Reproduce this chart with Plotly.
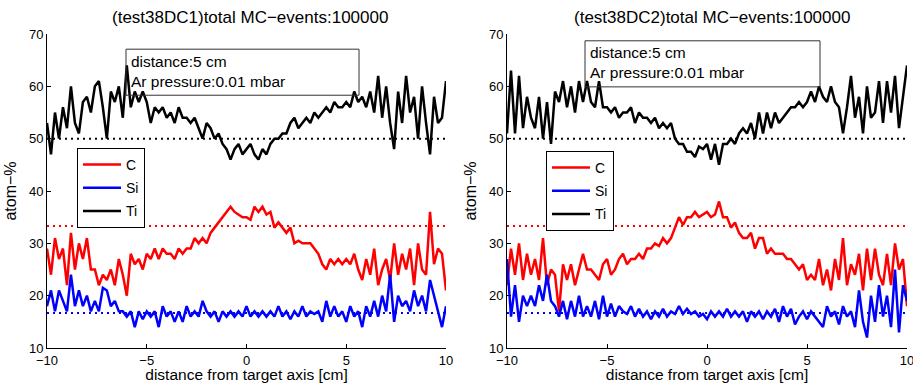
import plotly.graph_objects as go

# ---------------- data ----------------
x_pos = [round(-10 + 0.2 * i, 1) for i in range(101)]

ti_dc1 = [53, 47, 55, 50, 56, 52, 60, 53, 51, 57, 58, 55, 60, 61, 56, 50, 59, 57, 60, 54,
          64, 56, 59, 57, 59, 57, 53, 56, 55, 56, 54, 55, 53, 56, 54, 54, 53, 54, 52, 50,
          53, 52, 50, 51, 49, 48, 46, 48, 49, 47, 48, 49, 47, 46, 48, 47, 49, 50, 50, 51,
          51, 53, 54, 52, 53, 54, 53, 55, 54, 55, 56, 55, 57, 56, 56, 57, 56, 59, 57, 58,
          56, 59, 55, 62, 54, 60, 53, 48, 59, 53, 62, 55, 58, 50, 60, 53, 47, 58, 53, 54, 61]
c_dc1 = [29, 24, 31, 27, 29, 22, 32, 25, 30, 27, 31, 25, 25, 22, 24, 23, 25, 22, 27, 24,
         20, 28, 26, 27, 25, 28, 27, 29, 27, 29, 28, 28, 27, 29, 28, 29, 29, 31, 30, 31,
         30, 32, 33, 34, 35, 36, 37, 36, 35.5, 35, 35, 34.5, 37, 36, 37, 35.5, 36, 33, 34, 33,
         32, 33, 30, 30.5, 30, 30, 30, 29, 28, 26, 25, 27, 26, 27, 26, 27, 26, 28, 25, 23,
         27, 24, 29, 22, 25, 27, 23, 30, 24, 28, 25, 29, 22, 30, 25, 24, 36, 26, 29, 28, 21]
si_dc1 = [18, 21, 17, 21, 19, 17, 24, 18, 21, 18, 20, 17, 19, 17, 21.5, 21, 18, 19, 17, 17,
          16, 17, 14, 17, 15.5, 17, 16, 17, 14, 18, 16, 17, 15, 17, 15, 18, 16, 17, 16, 19,
          17, 16, 17, 15, 17, 16, 17, 16, 17, 16, 18, 16, 17, 16, 17, 16, 17, 16, 18, 16,
          17, 15.5, 17, 16, 18, 16, 17, 16.5, 17, 15, 19, 16, 18, 16, 17, 15, 18, 16, 17, 14,
          18, 16, 19, 16, 20, 17, 24, 15, 20, 18, 19, 17, 21, 18, 20, 17, 23, 20, 17, 14, 18]

ti_dc2 = [51, 63, 51, 62, 52, 58, 54, 52, 58, 50, 57, 49, 59, 57, 61, 56, 60, 55, 61, 57,
          61, 57, 56, 61, 56, 56, 55, 56, 54, 55, 55, 56, 53, 55, 54, 54, 53, 54, 52, 53,
          52, 53, 50, 49, 49, 47.5, 47.5, 46.5, 48.5, 48, 49, 46, 49, 45, 49, 49, 50, 49, 51, 52,
          51, 53, 50, 55, 51, 55, 52, 55, 53, 54, 55, 56, 56, 57, 56, 57, 59, 57, 60, 58,
          57, 60, 57, 56, 51, 56, 62, 54, 58, 51, 60, 54, 55, 61, 53, 61, 55, 62, 52, 58, 64]
c_dc2 = [22, 29, 24, 30, 23, 28, 24, 27, 23, 31, 22, 25, 24, 17, 26, 23, 26, 22, 25, 28,
         25, 25, 24, 23, 26, 27, 24, 25, 27, 28, 26, 27, 27, 28, 27, 29, 29, 30, 29.5, 31,
         30, 31, 33, 35, 33.5, 35, 35, 36, 35, 35.5, 36, 35, 35.5, 38, 35, 35, 33, 34, 32, 31,
         31, 32, 29, 31, 31, 28, 29, 28, 28, 28, 27, 27, 26, 25, 26, 23, 24, 23, 27, 22,
         25, 21, 27, 23, 31, 22, 26, 24, 28, 21, 29, 23, 29, 24, 22, 28, 22, 30, 25, 27, 18]
si_dc2 = [27, 16, 22, 15, 20, 18, 20, 18, 22, 19, 24, 19, 18, 16, 19, 15.5, 19, 16, 20, 16,
          18, 16, 19, 15.5, 20, 16, 18.5, 16, 18, 17, 16.5, 18, 16, 17.5, 16, 17, 15.5, 17, 16, 17.5,
          16, 17, 16.5, 18, 16.5, 17.5, 16.5, 17, 16, 16.5, 15.5, 17, 16, 17, 16, 17.5, 16, 17, 16, 17,
          15, 17, 16, 17, 15.5, 17, 16, 17.5, 15, 18, 16, 17.5, 14.5, 16, 17, 15.5, 17, 16, 15, 14,
          18, 16, 17, 14.5, 18, 16, 17, 14, 21, 15, 12, 20, 15, 22, 16, 20, 14, 25, 13, 22, 19]

ref_x = [-10, 10]
ref_ti = 50.0
ref_c = 100 / 3
ref_si = 100 / 6

titles = ["(test38DC1)total MC\u2212events:100000", "(test38DC2)total MC\u2212events:100000"]
info_text = "distance:5 cm<br>Ar pressure:0.01 mbar"
series_names = ["C", "Si", "Ti"]
colors = {"C": "#ff0000", "Si": "#0000ff", "Ti": "#000000"}

panels = [
    {"C": c_dc1, "Si": si_dc1, "Ti": ti_dc1},
    {"C": c_dc2, "Si": si_dc2, "Ti": ti_dc2},
]

# ---------------- figure ----------------
W, H = 913, 383
FONT = "Liberation Sans, Arial, Helvetica, sans-serif"

fig = go.Figure()

x_domains = [[47 / W, 446 / W], [507 / W, 907 / W]]
y_domain = [(H - 348) / H, (H - 34) / H]

for p, data in enumerate(panels):
    xa = "x" if p == 0 else "x2"
    ya = "y" if p == 0 else "y2"
    leg = "legend" if p == 0 else "legend2"
    # reference dotted lines
    for name, val in (("Ti", ref_ti), ("C", ref_c), ("Si", ref_si)):
        fig.add_trace(go.Scatter(
            x=ref_x, y=[val, val], mode="lines", xaxis=xa, yaxis=ya,
            line=dict(color=colors[name], width=2, dash="2px,4px"),
            showlegend=False, hoverinfo="skip"))
    for name in series_names:
        fig.add_trace(go.Scatter(
            x=x_pos, y=data[name], mode="lines", name=name, xaxis=xa, yaxis=ya,
            line=dict(color=colors[name], width=2.5), legend=leg, legendgroup=f"{leg}{name}"))

axis_common = dict(
    showgrid=False, zeroline=False, showline=True, linecolor="black", linewidth=1,
    ticks="inside", ticklen=4, tickcolor="black", tickwidth=1, automargin=False,
    tickfont=dict(size=13, color="black", family=FONT), mirror=False,
    ticklabeloverflow="allow",
)

legend_common = dict(
    xanchor="left", yanchor="top", bordercolor="black", borderwidth=1, bgcolor="white",
    font=dict(size=14, color="black"), tracegroupgap=2, itemwidth=38,
)

XT = "distance from target axis [cm]"

fig.update_layout(
    template="none",
    width=W, height=H,
    margin=dict(l=0, r=0, t=0, b=0, autoexpand=False),
    paper_bgcolor="white", plot_bgcolor="white",
    font=dict(family=FONT, color="black"),
    xaxis=dict(domain=x_domains[0], anchor="y", range=[-10, 10], tickvals=[-10, -5, 0, 5, 10],
               title=dict(text=XT, font=dict(size=15.5), standoff=5), **axis_common),
    yaxis=dict(domain=y_domain, anchor="x", range=[10, 70], tickvals=[10, 20, 30, 40, 50, 60, 70],
               title=dict(text="atom\u2212%", font=dict(size=16), standoff=8), **axis_common),
    xaxis2=dict(domain=x_domains[1], anchor="y2", range=[-10, 10], tickvals=[-10, -5, 0, 5, 10],
                title=dict(text=XT, font=dict(size=15.5), standoff=5), **axis_common),
    yaxis2=dict(domain=y_domain, anchor="x2", range=[10, 70], tickvals=[10, 20, 30, 40, 50, 60, 70],
                title=dict(text="atom\u2212%", font=dict(size=16), standoff=8), **axis_common),
    legend=dict(x=77 / W, y=(H - 148) / H, **legend_common),
    legend2=dict(x=546 / W, y=(H - 151) / H, **legend_common),
    showlegend=True,
)

# titles
for p, cx in enumerate([250 / W, 712 / W]):
    fig.add_annotation(x=cx, y=(H - 17) / H, xref="paper", yref="paper", text=titles[p],
                       showarrow=False, xanchor="center", yanchor="middle",
                       font=dict(size=17, color="black"))

# info boxes
boxes = [(-6.04, 5.64, 58.3, 67.1, "x", "y"), (-6.1, 5.65, 59.9, 68.7, "x2", "y2")]
for x0, x1, y0, y1, xr, yr in boxes:
    fig.add_shape(type="rect", xref=xr, yref=yr, x0=x0, x1=x1, y0=y0, y1=y1,
                  line=dict(color="#333333", width=1), fillcolor="rgba(0,0,0,0)", layer="above")
    fig.add_annotation(x=x0 + 0.15, y=y1 - 0.3, xref=xr, yref=yr, text=info_text,
                       showarrow=False, xanchor="left", yanchor="top", align="left",
                       font=dict(size=15.5, color="black"))

fig.write_html("out.html", config={"displayModeBar": False},
               post_script="document.body.style.margin='0';")
